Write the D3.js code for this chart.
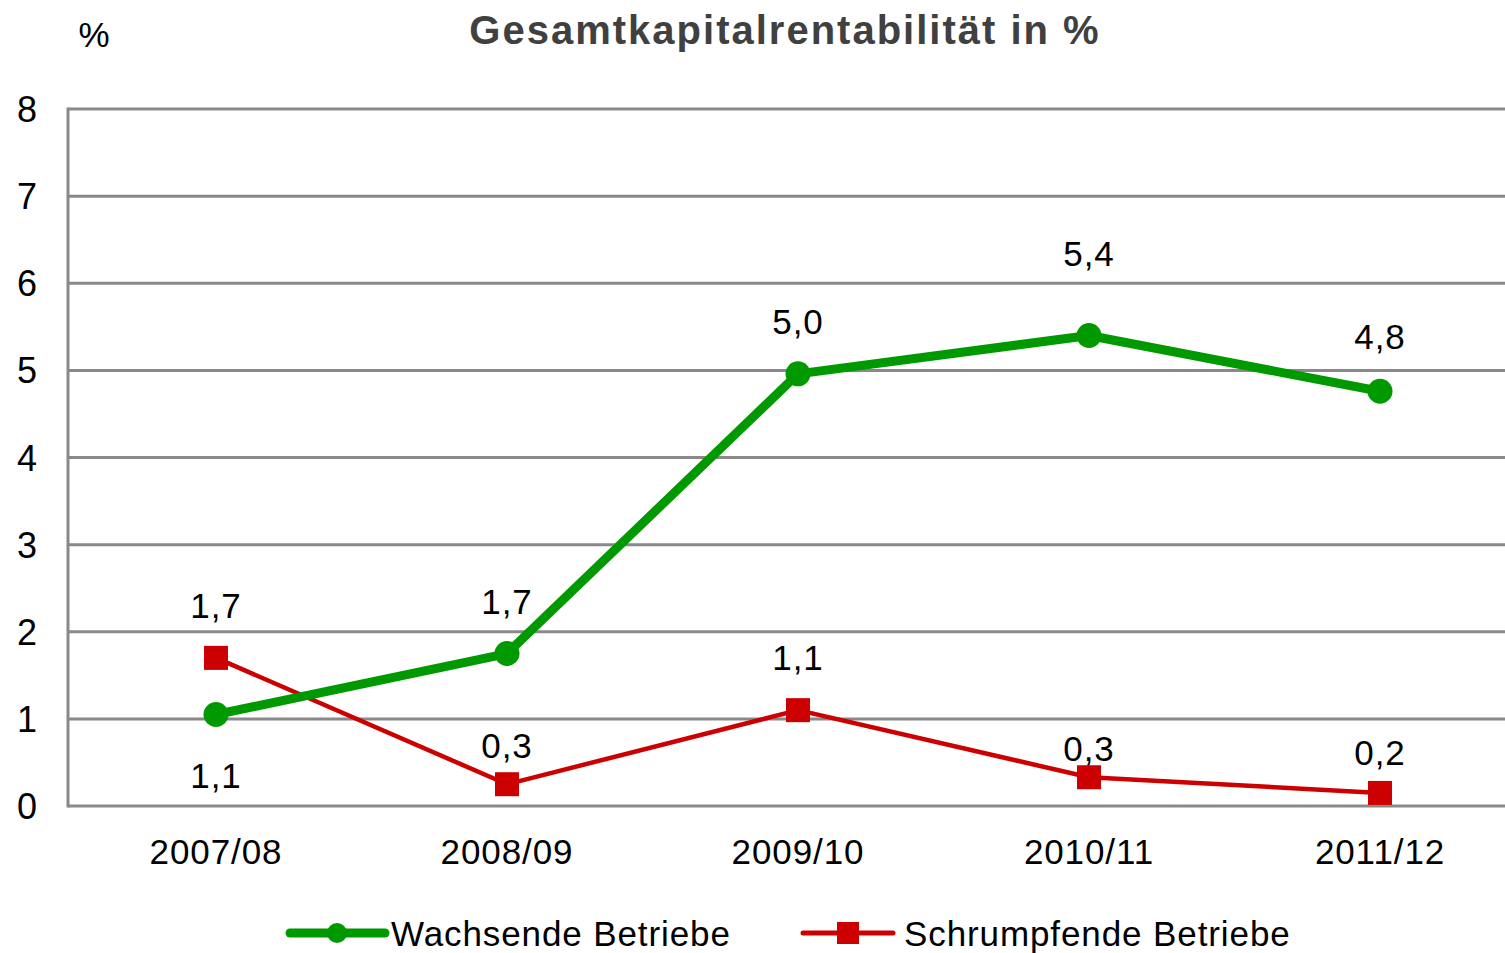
<!DOCTYPE html>
<html>
<head>
<meta charset="utf-8">
<script src="https://cdn.jsdelivr.net/npm/d3@7"></script>
<style>
  body { margin: 0; background: #fff; }
  svg { display: block; font-family: "Liberation Sans", Arial, sans-serif; }
</style>
</head>
<body>
<script>
var categories = ["2007/08", "2008/09", "2009/10", "2010/11", "2011/12"];
var wachsend = [1.05, 1.75, 4.96, 5.40, 4.76];
var schrumpf = [1.70, 0.25, 1.10, 0.33, 0.15];
var wachsendLabels = ["1,1", "1,7", "5,0", "5,4", "4,8"];
var schrumpfLabels = ["1,7", "0,3", "1,1", "0,3", "0,2"];
var yTicks = [0, 1, 2, 3, 4, 5, 6, 7, 8];
var seriesNames = ["Wachsende Betriebe", "Schrumpfende Betriebe"];

var w = 1505, h = 953,
    plotLeft = 68, plotTop = 109, plotBottom = 806;

var svg = d3.select("body").append("svg").attr("width", w).attr("height", h);

var x = d3.scalePoint().domain(categories).range([216, 1380]);
var y = d3.scaleLinear().domain([0, 8]).range([plotBottom, plotTop]);

// gridlines
svg.selectAll("line.grid")
  .data(yTicks)
  .enter()
  .append("line")
  .attr("class", "grid")
  .attr("x1", plotLeft).attr("x2", w)
  .attr("y1", function(d){ return y(d); })
  .attr("y2", function(d){ return y(d); })
  .attr("stroke", "#898989")
  .attr("stroke-width", 3);

svg.append("line")
  .attr("x1", plotLeft).attr("x2", plotLeft)
  .attr("y1", plotTop - 1.5).attr("y2", plotBottom + 1.5)
  .attr("stroke", "#898989").attr("stroke-width", 3);

// y tick labels
svg.selectAll("text.ytick")
  .data(yTicks)
  .enter()
  .append("text")
  .attr("class", "ytick")
  .attr("x", 27)
  .attr("y", function(d){ return y(d) + 13; })
  .attr("text-anchor", "middle")
  .attr("font-size", 36)
  .attr("fill", "#000")
  .text(function(d){ return d; });

// category labels
svg.selectAll("text.xtick")
  .data(categories)
  .enter()
  .append("text")
  .attr("class", "xtick")
  .attr("x", function(d){ return x(d); })
  .attr("y", 864)
  .attr("text-anchor", "middle")
  .attr("font-size", 35)
  .attr("letter-spacing", 0.9)
  .attr("fill", "#000")
  .text(function(d){ return d; });

svg.append("text")
  .attr("x", 785).attr("y", 44)
  .attr("text-anchor", "middle")
  .attr("font-size", 40)
  .attr("font-weight", "bold")
  .attr("letter-spacing", 2)
  .attr("fill", "#404040")
  .text("Gesamtkapitalrentabilität in %");

svg.append("text")
  .attr("x", 94).attr("y", 47)
  .attr("text-anchor", "middle")
  .attr("font-size", 35)
  .text("%");

var line = d3.line()
  .x(function(d, i){ return x(categories[i]); })
  .y(function(d){ return y(d); });

// red series
svg.append("path")
  .datum(schrumpf)
  .attr("d", line)
  .attr("fill", "none")
  .attr("stroke", "#cc0000")
  .attr("stroke-width", 4.5)
  .attr("stroke-linejoin", "round");

// green series
svg.append("path")
  .datum(wachsend)
  .attr("d", line)
  .attr("fill", "none")
  .attr("stroke", "#009900")
  .attr("stroke-width", 9)
  .attr("stroke-linejoin", "round");

svg.selectAll("rect.mk")
  .data(schrumpf)
  .enter()
  .append("rect")
  .attr("class", "mk")
  .attr("x", function(d, i){ return x(categories[i]) - 12; })
  .attr("y", function(d){ return y(d) - 12; })
  .attr("width", 24).attr("height", 24)
  .attr("fill", "#cc0000");

svg.selectAll("circle.mk")
  .data(wachsend)
  .enter()
  .append("circle")
  .attr("class", "mk")
  .attr("cx", function(d, i){ return x(categories[i]); })
  .attr("cy", function(d){ return y(d); })
  .attr("r", 12.5)
  .attr("fill", "#009900");

// data labels (offset from the point: negative = above)
var wachsendOffsets = [73, -40, -40, -70, -42];
var schrumpfOffsets = [-40, -26, -40, -16, -28];

svg.selectAll("text.wl")
  .data(wachsend)
  .enter()
  .append("text")
  .attr("class", "wl")
  .attr("x", function(d, i){ return x(categories[i]); })
  .attr("y", function(d, i){ return y(d) + wachsendOffsets[i]; })
  .attr("text-anchor", "middle")
  .attr("font-size", 35)
  .attr("letter-spacing", 0.9)
  .text(function(d, i){ return wachsendLabels[i]; });

svg.selectAll("text.sl")
  .data(schrumpf)
  .enter()
  .append("text")
  .attr("class", "sl")
  .attr("x", function(d, i){ return x(categories[i]); })
  .attr("y", function(d, i){ return y(d) + schrumpfOffsets[i]; })
  .attr("text-anchor", "middle")
  .attr("font-size", 35)
  .attr("letter-spacing", 0.9)
  .text(function(d, i){ return schrumpfLabels[i]; });

// legend
var legend = svg.append("g");
var lg1 = legend.append("g").attr("transform", "translate(290,933)");
lg1.append("line").attr("x1", 0).attr("x2", 95).attr("stroke", "#009900").attr("stroke-width", 9).attr("stroke-linecap", "round");
lg1.append("circle").attr("cx", 47).attr("r", 10).attr("fill", "#009900");
lg1.append("text").attr("x", 101).attr("y", 13).attr("font-size", 35).attr("letter-spacing", 0.9).text(seriesNames[0]);

var lg2 = legend.append("g").attr("transform", "translate(803,933)");
lg2.append("line").attr("x1", 0).attr("x2", 90).attr("stroke", "#cc0000").attr("stroke-width", 5).attr("stroke-linecap", "round");
lg2.append("rect").attr("x", 34).attr("y", -11).attr("width", 22).attr("height", 22).attr("fill", "#cc0000");
lg2.append("text").attr("x", 101).attr("y", 13).attr("font-size", 35).attr("letter-spacing", 0.9).text(seriesNames[1]);
</script>
</body>
</html>
